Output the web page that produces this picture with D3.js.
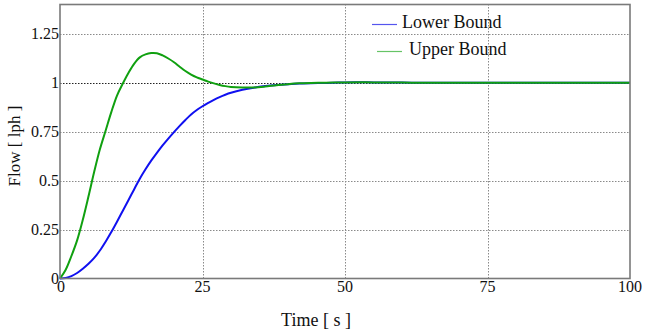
<!DOCTYPE html>
<html>
<head>
<meta charset="utf-8">
<script src="https://cdn.jsdelivr.net/npm/d3@7"></script>
<style>
  html, body { margin: 0; padding: 0; background: #fff; }
  svg { display: block; }
</style>
</head>
<body>
<svg id="chart" width="648" height="333" font-family="'Liberation Serif', 'DejaVu Serif', serif"></svg>
<script>
// Step response of the flow loop: lower and upper bound envelopes
const time = [0, 1, 2, 3, 4, 5, 6, 7, 8, 9, 10, 11, 12, 13, 14, 15, 16, 17, 18, 19, 20,
              21, 22, 23, 24, 25, 26, 27, 28, 29, 30, 32, 34, 36, 38, 40, 42, 44, 46, 48,
              50, 55, 60, 65, 70, 75, 80, 85, 90, 95, 100];

const lowerBound = [0, 0.003, 0.012, 0.028, 0.05, 0.075, 0.105, 0.143, 0.188, 0.237, 0.29,
                    0.345, 0.40, 0.455, 0.51, 0.558, 0.602, 0.642, 0.68, 0.715, 0.748,
                    0.78, 0.81, 0.838, 0.861, 0.88, 0.897, 0.913, 0.927, 0.939, 0.949,
                    0.964, 0.975, 0.983, 0.989, 0.993, 0.996, 0.998, 0.999, 1.0,
                    1.002, 1.002, 1.001, 1.0, 1.0, 1.0, 1.0, 1.0, 1.0, 1.0, 1.0];

const upperBound = [0, 0.045, 0.115, 0.195, 0.30, 0.42, 0.545, 0.66, 0.755, 0.85, 0.935,
                    0.995, 1.05, 1.097, 1.13, 1.145, 1.152, 1.151, 1.14, 1.124, 1.105,
                    1.082, 1.06, 1.042, 1.028, 1.017, 1.006, 0.997, 0.989, 0.983, 0.979,
                    0.976, 0.976, 0.981, 0.988, 0.993, 0.997, 0.999, 1.0, 1.001,
                    1.002, 1.002, 1.001, 1.0, 1.0, 1.0, 1.0, 1.0, 1.0, 1.0, 1.0];

const xTicks = [0, 25, 50, 75, 100];
const yTicks = [0, 0.25, 0.5, 0.75, 1, 1.25];
const yTickLabels = ["0", "0.25", "0.5", "0.75", "1", "1.25"];

const seriesNames = ["Lower Bound", "Upper Bound"];
const seriesColors = ["#1010f0", "#10a010"];
const legendColors = ["#5555ee", "#66c466"];

const FONT = "'Liberation Serif', 'DejaVu Serif', serif";
const svg = d3.select("#chart");

const x = d3.scaleLinear().domain([0, 100]).range([60, 630]);
const y = d3.scaleLinear().domain([0, 1.4]).range([278.5, 4.5]);

// grid
const grid = svg.append("g");
grid.selectAll("line.vx")
  .data(xTicks.filter(d => d > 0 && d < 100))
  .join("line")
  .attr("x1", d => Math.round(x(d)) + 0.5).attr("x2", d => Math.round(x(d)) + 0.5)
  .attr("y1", y(0)).attr("y2", y(1.4))
  .attr("stroke", "#8a8a8a").attr("stroke-width", 1)
  .attr("stroke-dasharray", "1.5,1.5");
grid.selectAll("line.hy")
  .data(yTicks.filter(d => d > 0))
  .join("line")
  .attr("x1", x(0)).attr("x2", x(100))
  .attr("y1", d => Math.round(y(d)) + 0.5).attr("y2", d => Math.round(y(d)) + 0.5)
  .attr("stroke", d => d === 1 ? "#222" : "#8a8a8a").attr("stroke-width", 1)
  .attr("stroke-dasharray", "1.5,1.5");

// curves
const series = [lowerBound, upperBound];
const line = d3.line()
  .x(d => x(d[0]))
  .y(d => y(d[1]))
  .curve(d3.curveCatmullRom.alpha(0.5));

series.forEach((vals, i) => {
  svg.append("path")
    .datum(time.map((t, k) => [t, vals[k]]))
    .attr("d", line)
    .attr("fill", "none")
    .attr("stroke", seriesColors[i])
    .attr("stroke-width", 2)
    .attr("stroke-linejoin", "round");
});

// frame
svg.append("rect")
  .attr("x", x(0)).attr("y", y(1.4))
  .attr("width", x(100) - x(0)).attr("height", y(0) - y(1.4))
  .attr("fill", "none").attr("stroke", "#7a7a7a").attr("stroke-width", 1.6);

// tick labels
svg.append("g").selectAll("text")
  .data(xTicks)
  .join("text")
  .attr("x", d => x(d) + (d === 0 ? 1 : 0))
  .attr("y", 292)
  .attr("text-anchor", "middle")
  .attr("font-family", FONT)
  .attr("font-size", 16)
  .attr("fill", "#111")
  .text(d => d);

svg.append("g").selectAll("text")
  .data(yTicks)
  .join("text")
  .attr("x", 59)
  .attr("y", d => y(d) + 5)
  .attr("text-anchor", "end")
  .attr("font-family", FONT)
  .attr("font-size", 16)
  .attr("fill", "#111")
  .text((d, i) => yTickLabels[i]);

// axis titles
svg.append("text")
  .attr("x", 316).attr("y", 326)
  .attr("text-anchor", "middle")
  .attr("font-family", FONT)
  .attr("font-size", 18)
  .attr("fill", "#111")
  .text("Time [ s ]");

svg.append("text")
  .attr("transform", "translate(20,146) rotate(-90)")
  .attr("text-anchor", "middle")
  .attr("font-family", FONT)
  .attr("font-size", 17)
  .attr("fill", "#111")
  .text("Flow [ lph ]");

// legend
const legendPos = [{lx: 372, ly: 24, tx: 402}, {lx: 377, ly: 51, tx: 409}];
seriesNames.forEach((name, i) => {
  const p = legendPos[i];
  svg.append("line")
    .attr("x1", p.lx).attr("x2", p.lx + 25)
    .attr("y1", p.ly + 0.5).attr("y2", p.ly + 0.5)
    .attr("stroke", legendColors[i]).attr("stroke-width", 1.2);
  svg.append("text")
    .attr("x", p.tx).attr("y", p.ly + 4)
    .attr("font-family", FONT)
    .attr("font-size", 18)
    .attr("fill", "#111")
    .text(name);
});
</script>
</body>
</html>
